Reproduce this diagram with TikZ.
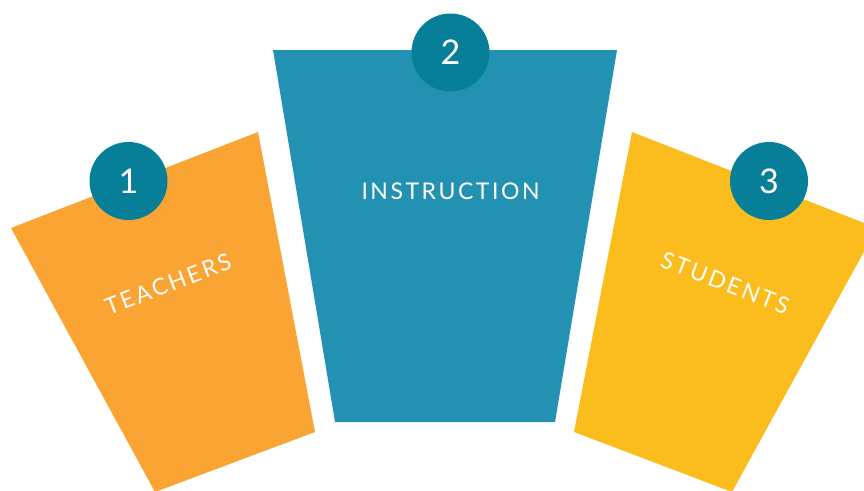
\documentclass[tikz,border=0pt]{standalone}
\usepackage{fontspec}
\setmainfont{Lato}
\definecolor{orangeC}{RGB}{249,164,51}
\definecolor{blueC}{RGB}{35,146,178}
\definecolor{yellowC}{RGB}{251,189,29}
\definecolor{tealC}{RGB}{8,127,153}
\begin{document}
\begin{tikzpicture}[x=1pt,y=-1pt,
  numcirc/.style={circle,fill=tealC,minimum size=78pt,inner sep=0pt,text=white,font=\fontsize{34}{34}\selectfont},
  lbl/.style={text=white,inner sep=0pt,font=\fontsize{23}{23}\selectfont\addfontfeature{LetterSpace=11}}]
\useasboundingbox (0,0) rectangle (864,490);
\begin{scope}
\clip (0,0) rectangle (864,490);
\fill[orangeC] (11,228) -- (258,132) -- (315,432) -- (155,492) -- cycle;
\fill[yellowC] (877,228) -- (632,132) -- (574,432) -- (732,492) -- cycle;
\fill[blueC] (273,50) -- (617,50) -- (555,422) -- (335,422) -- cycle;
\end{scope}
\node[numcirc] (c1) at (128.5,181) {1};
\node[numcirc] (c2) at (450.5,52.5) {2};
\node[numcirc] (c3) at (769,181) {3};
\node[lbl] (t2) at (450.5,191) {INSTRUCTION};
\node[lbl,rotate=21] (t1) at (168,284) {TEACHERS};
\node[lbl,rotate=-21] (t3) at (725,283) {STUDENTS};
\end{tikzpicture}
\end{document}
